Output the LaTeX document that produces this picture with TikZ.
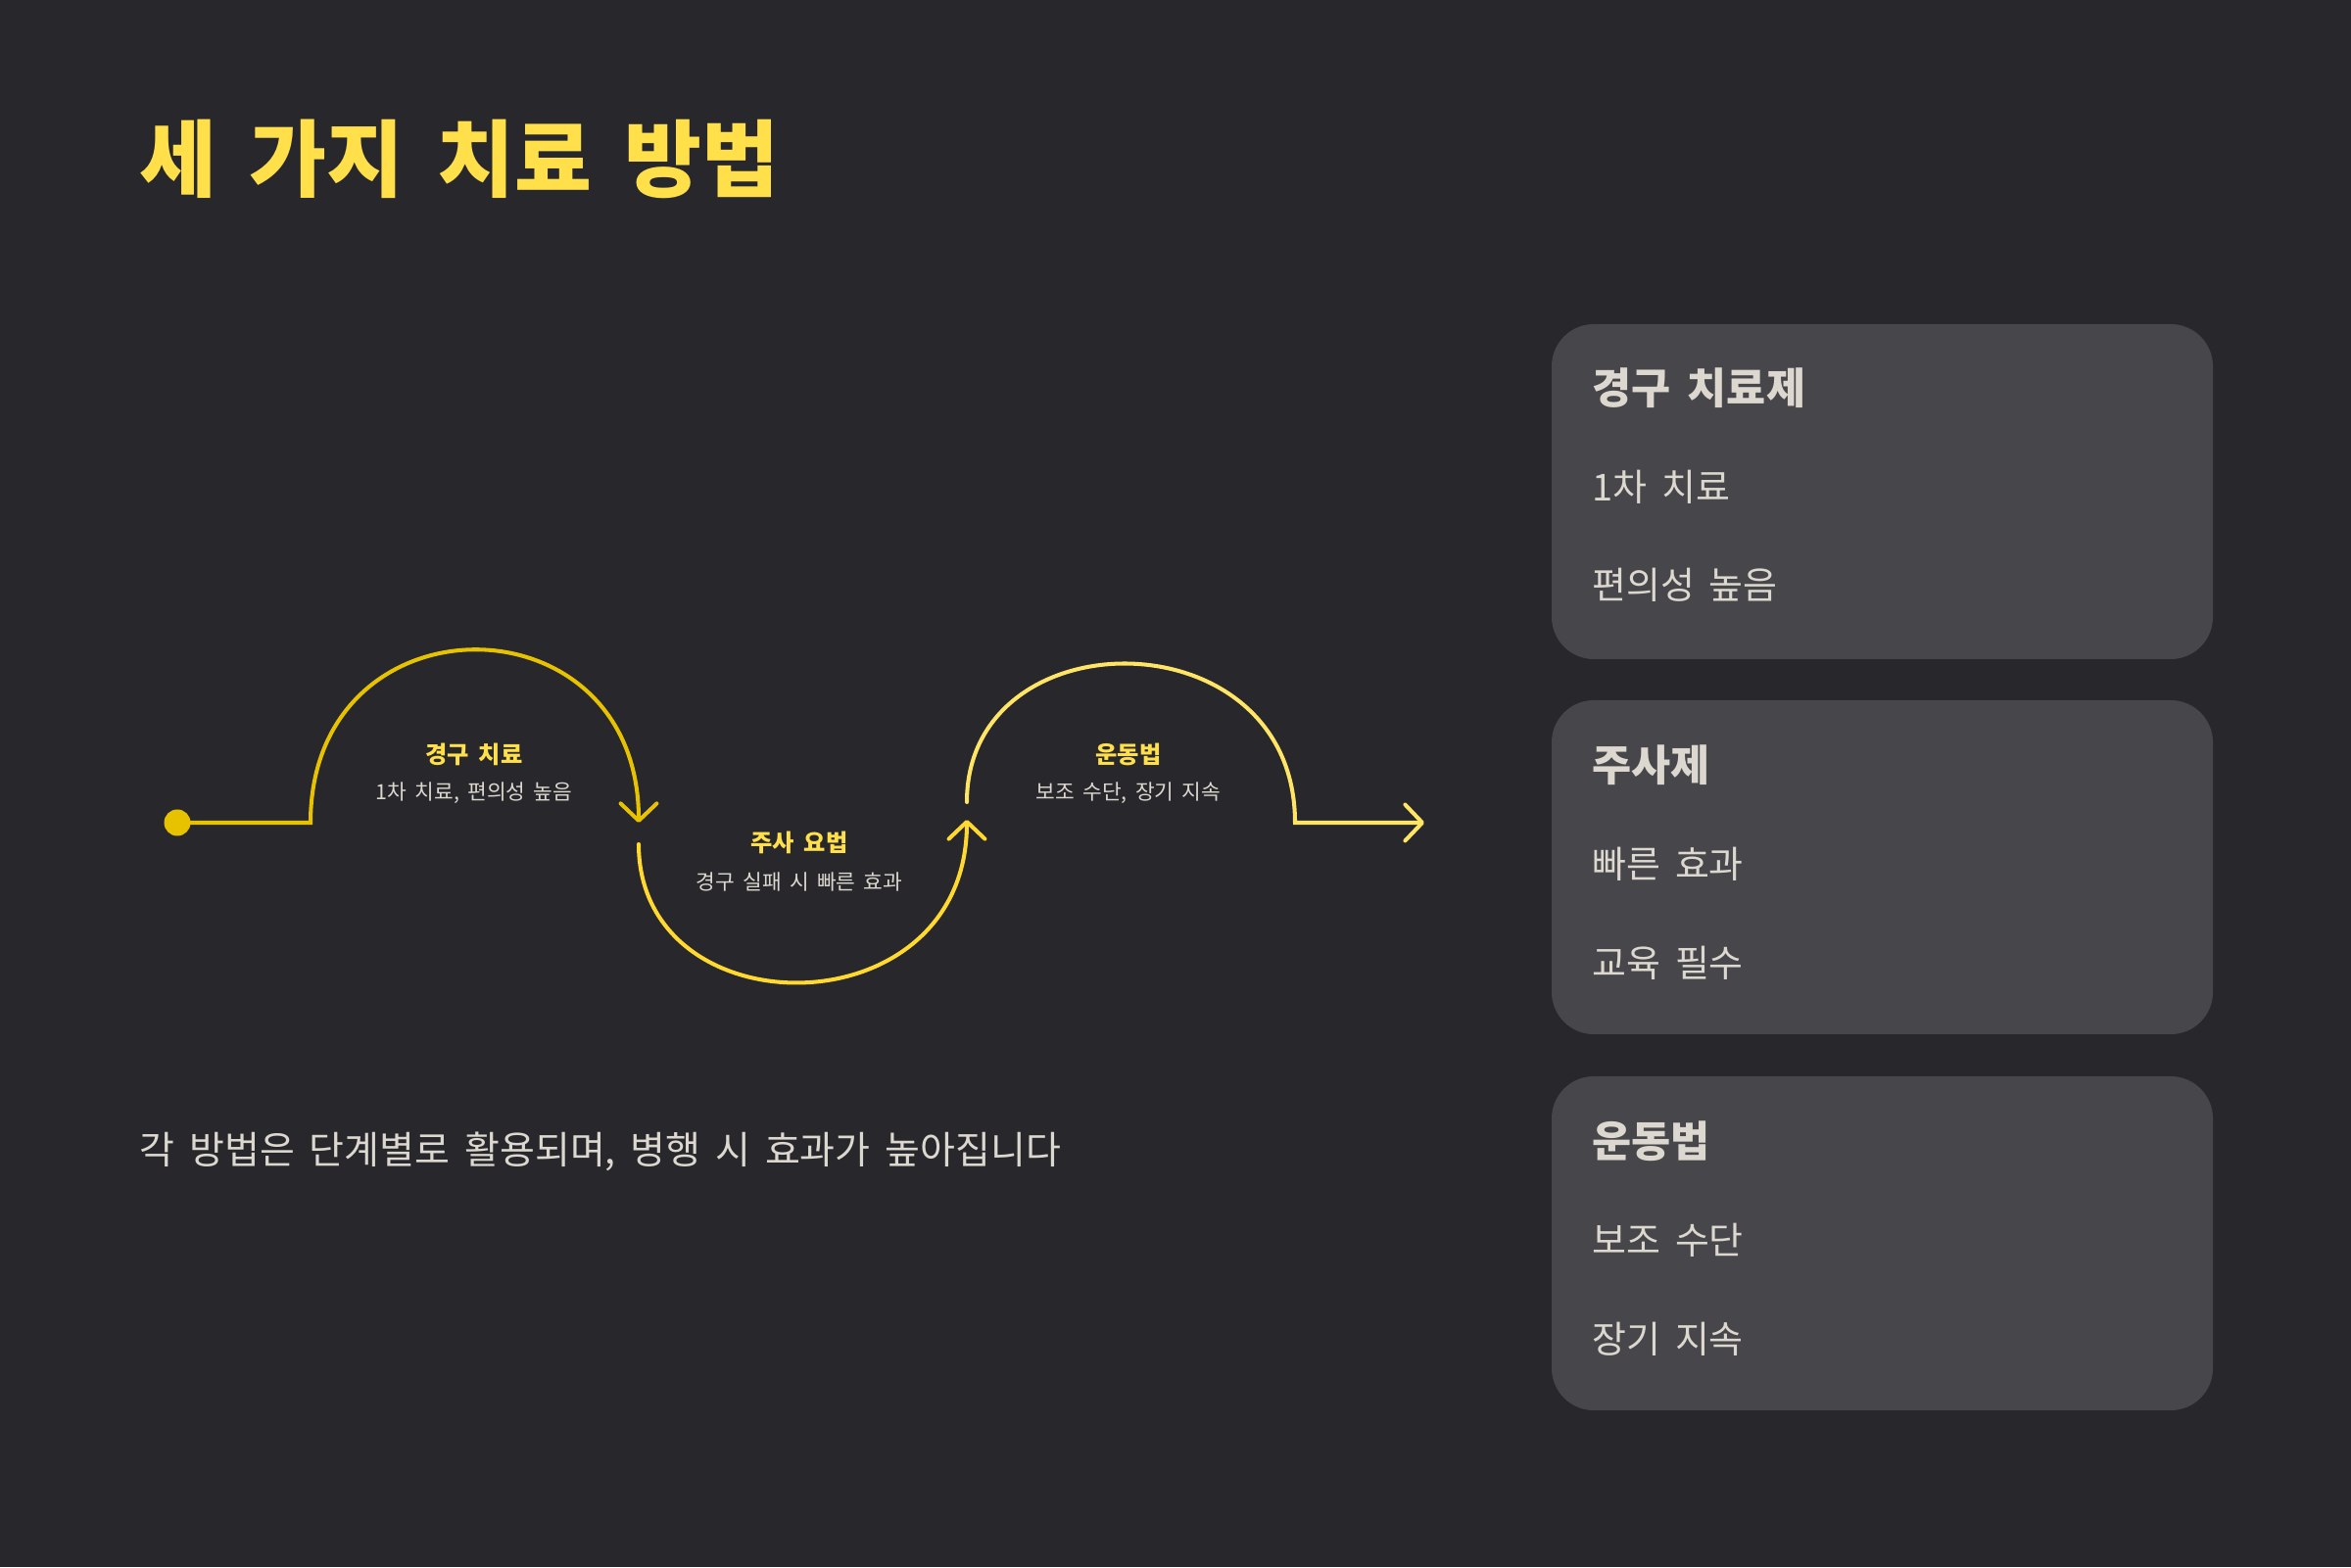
\documentclass[tikz,border=0pt]{standalone}
\usepackage{fontspec}
\setmainfont{Noto Sans CJK KR}[WordSpace=1.7]
\usepackage{xcolor}
\usetikzlibrary{arrows.meta}
\definecolor{bgdark}{RGB}{39,39,44}
\definecolor{cardgray}{RGB}{71,70,75}
\definecolor{titleyel}{RGB}{255,224,74}
\definecolor{arcA}{RGB}{230,194,0}
\definecolor{arcB}{RGB}{255,217,47}
\definecolor{arcC}{RGB}{255,229,102}
\definecolor{softtxt}{RGB}{220,216,207}

\begin{document}
\begin{tikzpicture}[>={Straight Barb[length=5pt,width=10.5pt,round]},
  wave/.style={line width=1.15pt,line cap=round},
  card/.style={fill=cardgray,rounded corners=0.43cm},
  stagehead/.style={text=titleyel,font=\fontsize{6.9}{8}\selectfont\bfseries,inner sep=0pt},
  stagesub/.style={text=softtxt,font=\fontsize{6.1}{7}\selectfont,inner sep=0pt},
  cardhead/.style={anchor=west,text=softtxt,font=\fontsize{12.4}{14}\selectfont\bfseries,inner sep=0pt},
  carditem/.style={anchor=west,text=softtxt,font=\fontsize{10.8}{13}\selectfont,inner sep=0pt}]
  \fill[bgdark] (0,0) rectangle (24,16);
  \useasboundingbox (0,0) rectangle (24,16);

  \node[anchor=west,inner sep=0pt,text=titleyel,font=\fontsize{24.4}{28}\selectfont\bfseries] (title) at (1.42,14.38) {세 가지 치료 방법};

  % wave path
  \coordinate (start) at (1.81,7.60);
  \coordinate (rise) at (3.17,7.60);
  \coordinate (oralend) at (6.52,7.60);
  \coordinate (injstart) at (6.52,7.38);
  \coordinate (injend) at (9.87,7.63);
  \coordinate (exstart) at (9.87,7.81);
  \coordinate (exend) at (13.22,7.60);
  \coordinate (finish) at (14.54,7.60);

  \fill[arcA] (start) circle (0.135);
  \draw[wave,arcA,->] (start) -- (rise) .. controls (3.17,9.95) and (6.52,9.95) .. (oralend);
  \draw[wave,arcB,->] (injstart) .. controls (6.52,5.46) and (9.87,5.46) .. (injend);
  \draw[wave,arcC,->] (exstart) .. controls (9.87,9.73) and (13.22,9.73) .. (exend) -- (finish);

  \node[stagehead] (oralhd) at (4.84,8.30) {경구 치료};
  \node[stagesub] (oralsub) at (4.84,7.90) {1차 치료, 편의성 높음};
  \node[stagehead] (injhd) at (8.16,7.40) {주사 요법};
  \node[stagesub] (injsub) at (8.16,7.00) {경구 실패 시 빠른 효과};
  \node[stagehead] (exhd) at (11.52,8.30) {운동법};
  \node[stagesub] (exsub) at (11.52,7.90) {보조 수단, 장기 지속};

  \node[anchor=west,inner sep=0pt,text=softtxt,font=\fontsize{11.1}{13}\selectfont] (note) at (1.42,4.24) {각 방법은 단계별로 활용되며, 병행 시 효과가 높아집니다};

  % cards
  \fill[card] (15.84,9.27) rectangle (22.59,12.69);
  \fill[card] (15.84,5.44) rectangle (22.59,8.85);
  \fill[card] (15.84,1.60) rectangle (22.59,5.01);

  \node[cardhead] (oralcard) at (16.25,12.04) {경구 치료제};
  \node[carditem] (oralone) at (16.25,11.03) {1차 치료};
  \node[carditem] (oraltwo) at (16.25,10.03) {편의성 높음};
  \node[cardhead] (injcard) at (16.25,8.19) {주사제};
  \node[carditem] (injone) at (16.25,7.18) {빠른 효과};
  \node[carditem] (injtwo) at (16.25,6.17) {교육 필수};
  \node[cardhead] (excard) at (16.25,4.35) {운동법};
  \node[carditem] (exone) at (16.25,3.34) {보조 수단};
  \node[carditem] (extwo) at (16.25,2.33) {장기 지속};
\end{tikzpicture}
\end{document}
